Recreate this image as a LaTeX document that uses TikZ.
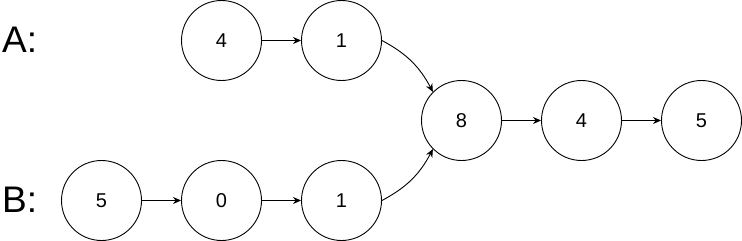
\documentclass[tikz,border=0pt]{standalone}
\usepackage{fontspec}
\setmainfont{Liberation Sans}
\usetikzlibrary{arrows.meta}
\begin{document}
\begin{tikzpicture}[x=1pt,y=-1pt,
  lnode/.style={circle,draw,line width=0.9pt,minimum size=80pt,inner sep=0pt,font=\fontsize{20}{24}\selectfont},
  lab/.style={font=\fontsize{37}{40}\selectfont,anchor=west,inner sep=0pt},
  arr/.style={-{Stealth[length=8pt,width=7pt,inset=2.5pt]},line width=0.9pt}]
\useasboundingbox (0,0) rectangle (742,241);
\node[lab] (la) at (2,40) {A:};
\node[lab] (lb) at (2,200) {B:};
\node[lnode] (a4) at (221.5,40.5) {4};
\node[lnode] (a1) at (341.5,40.5) {1};
\node[lnode] (c8) at (461.5,120.5) {8};
\node[lnode] (c4) at (581.5,120.5) {4};
\node[lnode] (c5) at (701.5,120.5) {5};
\node[lnode] (b5) at (101.5,200.5) {5};
\node[lnode] (b0) at (221.5,200.5) {0};
\node[lnode] (b1) at (341.5,200.5) {1};
\draw[arr] (a4) -- (a1);
\draw[arr] (c8) -- (c4);
\draw[arr] (c4) -- (c5);
\draw[arr] (b5) -- (b0);
\draw[arr] (b0) -- (b1);
\draw[arr] (a1.east) to[out=-28,in=118] (c8.135);
\draw[arr] (b1.east) to[out=28,in=-118] (c8.225);
\end{tikzpicture}
\end{document}
